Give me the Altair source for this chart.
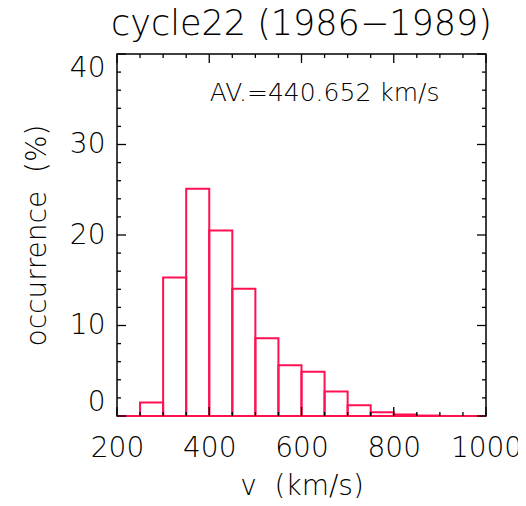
import altair as alt
import pandas as pd

# Histogram data (bin edges in km/s, occurrence in %)
bin_start = [200, 250, 300, 350, 400, 450, 500, 550, 600, 650, 700, 750, 800, 850, 900, 950]
bin_end = [250, 300, 350, 400, 450, 500, 550, 600, 650, 700, 750, 800, 850, 900, 950, 1000]
occurrence = [0.0, 1.5, 15.3, 25.1, 20.5, 14.05, 8.6, 5.6, 4.9, 2.7, 1.2, 0.42, 0.17, 0.05, 0.0, 0.0]

x_major = [200, 400, 600, 800, 1000]
x_minor = [250, 300, 350, 450, 500, 550, 650, 700, 750, 850, 900, 950]
y_major = [0, 10, 20, 30, 40]
y_minor = [2, 4, 6, 8, 12, 14, 16, 18, 22, 24, 26, 28, 32, 34, 36, 38]

title_text = "cycle22\u00a0(1986\u22121989)"
x_title = "v\u00a0\u00a0(km/s)"
y_title = "occurrence\u00a0\u00a0(%)"
note_text = "AV.=440.652\u00a0km/s"

W, H = 369, 362
FONT = "DejaVu Sans"
FW = 200
RED = "#ff1050"

bars_df = pd.DataFrame({"v0": bin_start, "v1": bin_end, "occ": occurrence})
xs = alt.Scale(domain=[200, 1000], nice=False, zero=False)
ys = alt.Scale(domain=[0, 40], nice=False)

base_x = alt.X("v0:Q", scale=xs,
               axis=alt.Axis(title=x_title, values=x_major, tickSize=0, format="d",
                             labelPadding=18, titlePadding=10, grid=False,
                             domain=False, labelFontSize=28, titleFontSize=28,
                             labelFont=FONT, titleFont=FONT, labelColor="black",
                             titleColor="black", labelFontWeight=FW,
                             titleFontWeight=FW, labelFlush=False))
base_y = alt.Y("occ:Q", scale=ys,
               axis=alt.Axis(title=y_title, values=y_major, tickSize=0, format="d",
                             labelPadding=12, titlePadding=18, grid=False,
                             domain=False, labelFontSize=28, titleFontSize=28,
                             labelFont=FONT, titleFont=FONT, labelColor="black",
                             titleColor="black", labelFontWeight=FW,
                             titleFontWeight=FW, labelFlush=True))

bars = alt.Chart(bars_df).mark_bar(fill="white", fillOpacity=0, stroke=RED,
                                   strokeWidth=2).encode(
    x=base_x, x2="v1:Q", y=base_y, y2=alt.datum(0)
)

def xticks(vals, length):
    df = pd.DataFrame({"t": vals})
    bottom = alt.Chart(df).mark_rule(color="black", strokeWidth=1.3).encode(
        x=alt.X("t:Q", scale=xs), y=alt.value(H), y2=alt.value(H - length))
    top = alt.Chart(df).mark_rule(color="black", strokeWidth=1.3).encode(
        x=alt.X("t:Q", scale=xs), y=alt.value(0), y2=alt.value(length))
    return [bottom, top]

def yticks(vals, length):
    df = pd.DataFrame({"t": vals})
    left = alt.Chart(df).mark_rule(color="black", strokeWidth=1.3).encode(
        y=alt.Y("t:Q", scale=ys), x=alt.value(0), x2=alt.value(length))
    right = alt.Chart(df).mark_rule(color="black", strokeWidth=1.3).encode(
        y=alt.Y("t:Q", scale=ys), x=alt.value(W), x2=alt.value(W - length))
    return [left, right]

note = alt.Chart(pd.DataFrame({"s": [note_text]})).mark_text(
    font=FONT, fontSize=25, fontWeight=FW, color="black", align="center",
    baseline="middle").encode(x=alt.datum(650), y=alt.datum(35.7), text="s:N")

layers = [bars] + xticks(x_major, 9) + xticks(x_minor, 4) + yticks(y_major, 9) + yticks(y_minor, 4) + [note]

chart = alt.layer(*layers).properties(
    width=W, height=H,
    title=alt.TitleParams(title_text, font=FONT, fontSize=35, fontWeight=FW,
                          color="black", anchor="middle", offset=11),
    autosize=alt.AutoSizeParams(type="none"),
    padding={"left": 109, "top": 46, "right": 32, "bottom": 82},
).configure_view(stroke="black", strokeWidth=1.5)

chart.save("out.html", embed_options={"renderer": "svg", "actions": False})
